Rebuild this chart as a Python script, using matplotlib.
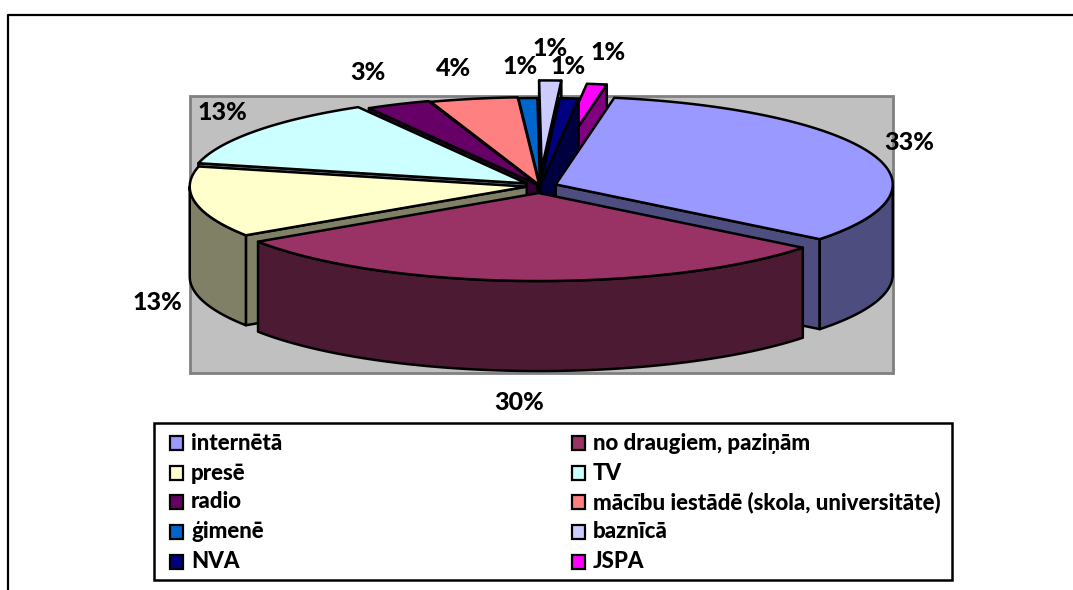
import numpy as np
import matplotlib
matplotlib.use('Agg')
import matplotlib.pyplot as plt
from matplotlib.patches import Polygon, Rectangle

# Datos (porcentajes, sentido horario)
categorias = ['internētā', 'no draugiem, paziņām', 'presē', 'TV', 'radio',
              'mācību iestādē (skola, universitāte)', 'ģimenē', 'baznīcā', 'NVA', 'JSPA']
valores = [32.9, 30.0, 13.0, 13.0, 3.1, 4.2, 0.9, 1.05, 0.9, 0.95]
etiquetas = ['33%', '30%', '13%', '13%', '3%', '4%', '1%', '1%', '1%', '1%']
colores = ['#9999FF', '#993366', '#FFFFCC', '#CCFFFF', '#660066',
           '#FF8080', '#0066CC', '#CCCCFF', '#000080', '#FF00FF']
colores_lado = ['#4D4D80', '#4D1A33', '#808066', '#668080', '#330033',
                '#804040', '#003366', '#666680', '#000040', '#800080']
separacion = [0.05, 0.08, 0.04, 0.05, 0.02, 0.01, 0.0, 0.2, 0.0, 0.17]
orden_dibujo = [7, 9, 8, 6, 5, 4, 3, 0, 2, 1]
pos_etiquetas = [(909, 142), (519, 402), (157, 302), (222, 112), (368, 73),
                 (453, 68), (520, 67), (550, 48), (568, 66), (608, 52)]

angulo_inicio = 10.0 - 360
CX, CY, RX, RY, PROF = 540, 186, 337, 88, 90


def punto(theta, cx, cy, dz=0):
    t = np.radians(theta)
    return np.array([cx + RX * np.sin(t), cy - RY * np.cos(t) + dz])


def arco(a, b, cx, cy, dz=0):
    return [punto(t, cx, cy, dz) for t in np.linspace(a, b, 80)]


def dibujar_porcion(ax, a, b, sep, color, lado):
    medio = np.radians((a + b) / 2)
    cx = CX + sep * RX * np.sin(medio)
    cy = CY - sep * RY * np.cos(medio)
    estilo = dict(edgecolor='black', linewidth=1.8, joinstyle='round')
    apice = np.array([cx, cy])
    abajo = np.array([cx, cy + PROF])

    # Caras de corte visibles
    if np.sin(np.radians(a)) < 0:
        ax.add_patch(Polygon([apice, punto(a, cx, cy), punto(a, cx, cy, PROF), abajo], facecolor=lado, **estilo))
    if np.sin(np.radians(b)) > 0:
        ax.add_patch(Polygon([apice, punto(b, cx, cy), punto(b, cx, cy, PROF), abajo], facecolor=lado, **estilo))

    # Pared exterior, solo la parte delantera
    for k in (0, 360, -360):
        ini, fin = max(a, 90 + k), min(b, 270 + k)
        if fin > ini:
            ax.add_patch(Polygon(arco(ini, fin, cx, cy) + arco(fin, ini, cx, cy, PROF), facecolor=lado, **estilo))

    # Cara superior
    ax.add_patch(Polygon([apice] + arco(a, b, cx, cy), facecolor=color, **estilo))


fig = plt.figure(figsize=(10.73, 5.90), dpi=100)
ax = fig.add_axes([0, 0, 1, 1])
ax.set_xlim(0, 1073)
ax.set_ylim(590, 0)
ax.axis('off')
plt.rcParams['font.family'] = ['Lato', 'DejaVu Sans']

# Marco exterior
ax.plot([8, 8, 1073], [590, 15, 15], color='black', linewidth=1.6)

# Fondo gris del grafico
ax.add_patch(Rectangle((190, 96), 703, 277, facecolor='#C0C0C0', edgecolor='#808080', linewidth=2))

# Angulos de cada porcion a partir de los valores
limites = angulo_inicio + np.cumsum([0] + valores) * 3.6
for i in orden_dibujo:
    dibujar_porcion(ax, limites[i], limites[i + 1], separacion[i], colores[i], colores_lado[i])

for texto, (x, y) in zip(etiquetas, pos_etiquetas):
    ax.text(x, y, texto, ha='center', va='center', fontsize=18, fontweight='black', color='black')

# Leyenda a mano, dos columnas
ax.add_patch(Rectangle((154, 423), 798, 157, facecolor='white', edgecolor='black', linewidth=1.8))
filas_y = [443, 473, 502, 532, 562]
for i, nombre in enumerate(categorias):
    y = filas_y[i // 2]
    x = 170 if i % 2 == 0 else 572
    ax.add_patch(Rectangle((x, y - 7), 13, 14, facecolor=colores[i], edgecolor='black', linewidth=1.6))
    ax.text(x + 21, y, nombre, ha='left', va='center', fontsize=16, fontweight='black', color='black')

fig.savefig('out.png', dpi=100)
